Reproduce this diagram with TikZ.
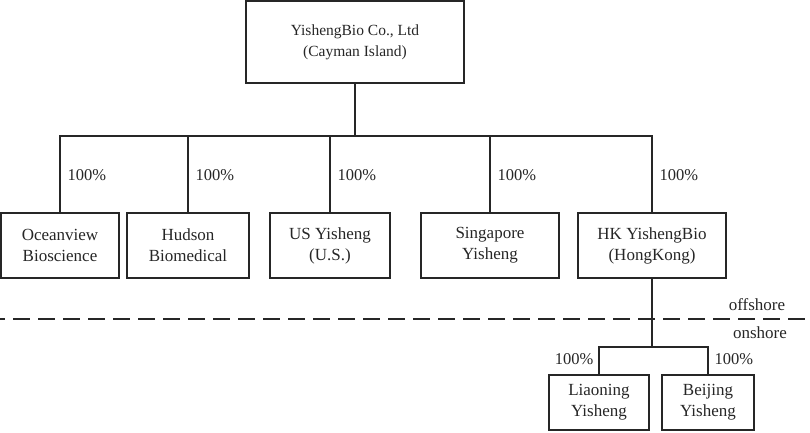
\documentclass[tikz,border=0pt]{standalone}
\usepackage{fontspec}
\setmainfont{Liberation Serif}
\begin{document}
\begin{tikzpicture}[x=1pt,y=-1pt,
  line width=1.3pt, draw=black!85, text=black!85,
  box/.style={draw=black!85, line width=1.3pt, align=center, inner sep=0pt,
    font=\fontsize{17}{21}\selectfont},
  pct/.style={font=\fontsize{16.5}{20}\selectfont, inner sep=0pt},
  shore/.style={font=\fontsize{17}{20}\selectfont, inner sep=0pt}]
\useasboundingbox (0,0) rectangle (810,433);
\node[box, minimum width=218, minimum height=82, font=\fontsize{15.5}{21}\selectfont] (top) at (355,42) {YishengBio Co., Ltd\\(Cayman Island)};
\node[box, minimum width=118, minimum height=65] (ocean) at (60,245.5) {Oceanview\\Bioscience};
\node[box, minimum width=122, minimum height=65] (hudson) at (188,245.5) {Hudson\\Biomedical};
\node[box, minimum width=120, minimum height=65] (us) at (330,245.5) {US Yisheng\\(U.S.)};
\node[box, minimum width=138, minimum height=65] (sg) at (490,245.5) {Singapore\\Yisheng};
\node[box, minimum width=148, minimum height=65] (hk) at (652,245.5) {HK YishengBio\\(HongKong)};
\node[box, minimum width=100, minimum height=55] (ln) at (599,402.5) {Liaoning\\Yisheng};
\node[box, minimum width=92, minimum height=55] (bj) at (708,402.5) {Beijing\\Yisheng};
\coordinate (bus) at (355,136);
\coordinate (bus2) at (652,347);
\draw (top) -- (bus);
\draw (ocean.north) |- (bus) -| (hk.north);
\draw (hudson.north) -- (hudson.north |- bus);
\draw (us.north) -- (us.north |- bus);
\draw (sg.north) -- (sg.north |- bus);
\draw (hk.south) -- (bus2);
\draw (ln.north) |- (bus2) -| (bj.north);
\node[pct, anchor=west] (p1) at (67,175) {100\%};
\node[pct, anchor=west] (p2) at (195,175) {100\%};
\node[pct, anchor=west] (p3) at (337,175) {100\%};
\node[pct, anchor=west] (p4) at (497,175) {100\%};
\node[pct, anchor=west] (p5) at (659,175) {100\%};
\node[pct, anchor=east] (p6) at (594,359) {100\%};
\node[pct, anchor=west] (p7) at (714,359) {100\%};
\coordinate (dl) at (0,319);
\coordinate (dr) at (810,319);
\draw[dash pattern=on 17pt off 8pt, dash phase=12pt] (dl) -- (dr);
\node[shore] (off) at (757,305) {offshore};
\node[shore] (on) at (760,333) {onshore};
\end{tikzpicture}
\end{document}
